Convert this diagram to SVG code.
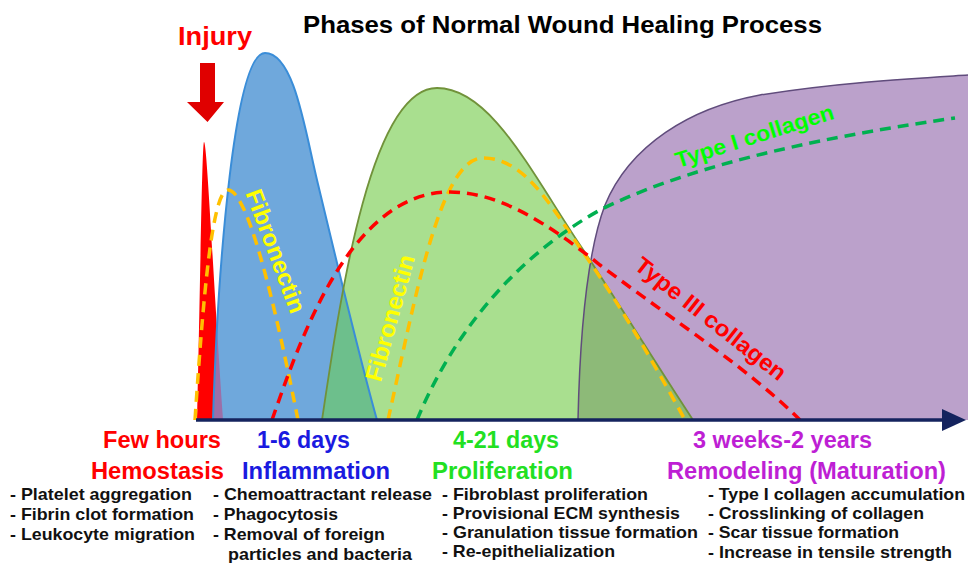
<svg xmlns="http://www.w3.org/2000/svg" width="968" height="563" viewBox="0 0 968 563">
<style>
text{font-family:"Liberation Sans",Arial,Helvetica,sans-serif;font-weight:bold}
.t{font-size:24px;fill:#000}
.ph{font-size:23px}
.li{font-size:17px;fill:#111}
.red{fill:#FF0000}
.blue{fill:#1A1AE0}
.grn{fill:#22E022}
.pur{fill:#BE1FD4}
.dash{fill:none;stroke-width:3.5;stroke-dasharray:11 7}
.fib{font-size:24px;fill:#FFFF00}
</style>
<defs>
<path id="pBlue" d="M213,420 C218,260 235,53 265,53 C294,53 305,130 317,180 C335,255 360,360 377,420 Z"/>
<path id="pGreen" d="M322,420 C340,300 370,88 437,88 C490,88 530,170 580,245 C620,305 660,370 693,420 Z"/>
<path id="pPurple" d="M578,420 C580,330 588,250 605,205 C630,145 690,108 760,95 C840,82 920,78 968,75 L968,420 Z"/>
<path id="pRed" d="M197,420 C200,300 202,142 204,142 C207,142 212,260 223,420 Z"/>
<clipPath id="cBlue"><use href="#pBlue"/></clipPath>
<clipPath id="cPurple"><use href="#pPurple"/></clipPath>
</defs>
<rect width="968" height="563" fill="#fff"/>

<g id="remodeling-curve">
<use href="#pPurple" fill="#BBA1CB"/>
</g>
<g id="hemostasis-curve">
<use href="#pRed" fill="#FF0000"/>
</g>
<g id="inflammation-curve">
<use href="#pBlue" fill="#6FA8DC"/>
<use href="#pRed" fill="#9C6FA8" clip-path="url(#cBlue)"/>
</g>
<g id="proliferation-curve">
<use href="#pGreen" fill="#A9DF8F"/>
<use href="#pGreen" fill="#6DBF8C" clip-path="url(#cBlue)"/>
<use href="#pGreen" fill="#8DBA78" clip-path="url(#cPurple)"/>
</g>
<g id="curve-outlines" fill="none">
<path d="M578,420 C580,330 588,250 605,205 C630,145 690,108 760,95 C840,82 920,78 968,75" stroke="#604C7C" stroke-width="1.5"/>
<path d="M213,420 C218,260 235,53 265,53 C294,53 305,130 317,180 C335,255 360,360 377,420" stroke="#3A8DD8" stroke-width="2"/>
<path d="M322,420 C340,300 370,88 437,88 C490,88 530,170 580,245 C620,305 660,370 693,420" stroke="#71923A" stroke-width="1.8"/>
</g>

<g id="fibronectin-1">
<path class="dash" stroke="#FFC000" d="M195,420 C203,300 212,190 228,190 C250,190 280,330 298,420"/>
<text class="fib" x="268" y="254" text-anchor="middle" transform="rotate(69.5 268 254)" textLength="130" lengthAdjust="spacingAndGlyphs">Fibronectin</text>
</g>
<g id="fibronectin-2">
<path class="dash" stroke="#FFC000" d="M388,420 C415,300 440,158 483,158 C525,158 550,205 585,255 C620,305 655,365 685,420"/>
<text class="fib" x="398" y="320" text-anchor="middle" transform="rotate(-74.7 398 320)" textLength="130" lengthAdjust="spacingAndGlyphs">Fibronectin</text>
</g>
<g id="type3-collagen">
<path class="dash" stroke="#FF0000" d="M272,420 C300,340 350,192 450,192 C500,192 550,225 600,265 C680,325 750,370 800,420"/>
<text class="red" style="font-size:23px" x="633" y="268" transform="rotate(38 633 268)" textLength="185" lengthAdjust="spacingAndGlyphs">Type III collagen</text>
</g>
<g id="type1-collagen">
<path class="dash" stroke="#00B050" d="M417,420 C450,340 510,260 600,210 C680,170 800,140 955,118"/>
<text style="font-size:22px;fill:#00FF00" x="678" y="168" transform="rotate(-17.5 678 168)" textLength="165" lengthAdjust="spacingAndGlyphs">Type I collagen</text>
</g>

<g id="connectors">
<line x1="196" y1="420" x2="945" y2="420" stroke="#14235E" stroke-width="3.5"/>
<polygon points="942,409 966,420 942,431" fill="#14235E"/>
<polygon points="200,63 215,63 215,102 224,102 207.5,122 187,102 200,102" fill="#E00000"/>
</g>

<g id="title">
<text class="t" x="303" y="33" textLength="519" lengthAdjust="spacingAndGlyphs">Phases of Normal Wound Healing Process</text>
</g>
<g id="injury">
<text class="red" style="font-size:26px" x="178" y="45" textLength="74" lengthAdjust="spacingAndGlyphs">Injury</text>
</g>

<g id="hemostasis">
<text class="ph red" x="103" y="448" textLength="118" lengthAdjust="spacingAndGlyphs">Few hours</text>
<text class="ph red" x="91" y="479" textLength="133" lengthAdjust="spacingAndGlyphs">Hemostasis</text>
<text class="li" x="10" y="500" textLength="182" lengthAdjust="spacingAndGlyphs">- Platelet aggregation</text>
<text class="li" x="10" y="520" textLength="184" lengthAdjust="spacingAndGlyphs">- Fibrin clot formation</text>
<text class="li" x="10" y="540" textLength="185" lengthAdjust="spacingAndGlyphs">- Leukocyte migration</text>
</g>
<g id="inflammation">
<text class="ph blue" x="257" y="448" textLength="93" lengthAdjust="spacingAndGlyphs">1-6 days</text>
<text class="ph blue" x="242" y="479" textLength="148" lengthAdjust="spacingAndGlyphs">Inflammation</text>
<text class="li" x="213" y="500" textLength="219" lengthAdjust="spacingAndGlyphs">- Chemoattractant release</text>
<text class="li" x="213" y="520" textLength="125" lengthAdjust="spacingAndGlyphs">- Phagocytosis</text>
<text class="li" x="213" y="540" textLength="172" lengthAdjust="spacingAndGlyphs">- Removal of foreign</text>
<text class="li" x="228" y="560" textLength="184" lengthAdjust="spacingAndGlyphs">particles and bacteria</text>
</g>
<g id="proliferation">
<text class="ph grn" x="453" y="448" textLength="106" lengthAdjust="spacingAndGlyphs">4-21 days</text>
<text class="ph grn" x="432" y="479" textLength="141" lengthAdjust="spacingAndGlyphs">Proliferation</text>
<text class="li" x="442" y="500" textLength="206" lengthAdjust="spacingAndGlyphs">- Fibroblast proliferation</text>
<text class="li" x="442" y="519" textLength="238" lengthAdjust="spacingAndGlyphs">- Provisional ECM synthesis</text>
<text class="li" x="442" y="538" textLength="256" lengthAdjust="spacingAndGlyphs">- Granulation tissue formation</text>
<text class="li" x="442" y="557" textLength="173" lengthAdjust="spacingAndGlyphs">- Re-epithelialization</text>
</g>
<g id="remodeling">
<text class="ph pur" x="693" y="448" textLength="179" lengthAdjust="spacingAndGlyphs">3 weeks-2 years</text>
<text class="ph pur" x="667" y="479" textLength="279" lengthAdjust="spacingAndGlyphs">Remodeling (Maturation)</text>
<text class="li" x="708" y="500" textLength="257" lengthAdjust="spacingAndGlyphs">- Type I collagen accumulation</text>
<text class="li" x="708" y="519" textLength="216" lengthAdjust="spacingAndGlyphs">- Crosslinking of collagen</text>
<text class="li" x="708" y="538" textLength="191" lengthAdjust="spacingAndGlyphs">- Scar tissue formation</text>
<text class="li" x="708" y="558" textLength="244" lengthAdjust="spacingAndGlyphs">- Increase in tensile strength</text>
</g>
</svg>
